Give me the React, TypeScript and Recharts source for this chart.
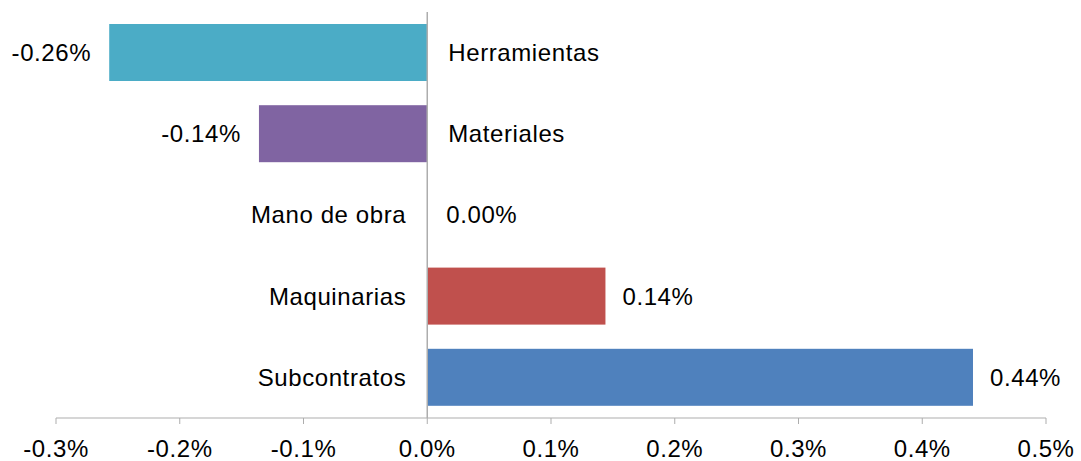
import React from 'react';
import { BarChart, Bar, XAxis, YAxis, ReferenceLine } from 'recharts';

const categories = ['Herramientas', 'Materiales', 'Mano de obra', 'Maquinarias', 'Subcontratos'];
const values = [-0.257, -0.136, 0, 0.144, 0.441];
const colors = ['#4BACC6', '#8064A2', '#9BBB59', '#C0504D', '#4F81BD'];
const xTicks = [-0.3, -0.2, -0.1, 0, 0.1, 0.2, 0.3, 0.4, 0.5];

const data = categories.map((name, i) => ({ name, value: values[i], color: colors[i] }));

const FONT = 'Liberation Sans, Arial, sans-serif';
const FS = 24;

const BarWithLabels = (props: any) => {
  const { x, y, width, height, payload } = props;
  const v: number = payload.value;
  const left = Math.min(x, x + width);
  const right = Math.max(x, x + width);
  const w = Math.abs(width);
  const zero = v < 0 ? right : v > 0 ? left : x;
  const cy = y + height / 2;
  const valText = v.toFixed(2) + '%';
  const name: string = payload.name;
  const common = { fontFamily: FONT, fontSize: FS, fill: '#000', dominantBaseline: 'central' as const, letterSpacing: 0.6 };
  if (v < 0) {
    return (
      <g>
        <rect x={left} y={y} width={w} height={height} fill={payload.color} />
        <text x={left - 18} y={cy} textAnchor="end" {...common}>{valText}</text>
        <text x={zero + 21} y={cy} textAnchor="start" {...common}>{name}</text>
      </g>
    );
  }
  return (
    <g>
      {w > 0 && <rect x={left} y={y} width={w} height={height} fill={payload.color} />}
      <text x={v === 0 ? zero + 19 : right + 17} y={cy} textAnchor="start" {...common}>{valText}</text>
      <text x={zero - 21} y={cy} textAnchor="end" {...common}>{name}</text>
    </g>
  );
};

export default function App() {
  return (
    <div style={{ position: 'absolute', left: 0, top: 0, width: 1081, height: 461, background: '#fff' }}>
      <BarChart
        width={1081}
        height={461}
        data={data}
        layout="vertical"
        margin={{ top: 12, right: 35, bottom: 0, left: 56 }}
        barSize={57}
      >
        <XAxis
          type="number"
          domain={[-0.3, 0.5]}
          ticks={xTicks}
          tickFormatter={(t: number) => t.toFixed(1) + '%'}
          stroke="#ADADAD"
          tickSize={6}
          tickMargin={16}
          height={43}
          tick={{ fill: '#000', fontSize: FS, fontFamily: FONT, letterSpacing: 0.6 }}
        />
        <YAxis type="category" dataKey="name" hide />
        <Bar dataKey="value" isAnimationActive={false} shape={BarWithLabels} />
        <ReferenceLine x={0} stroke="#ADADAD" strokeWidth={1.5} />
      </BarChart>
    </div>
  );
}
